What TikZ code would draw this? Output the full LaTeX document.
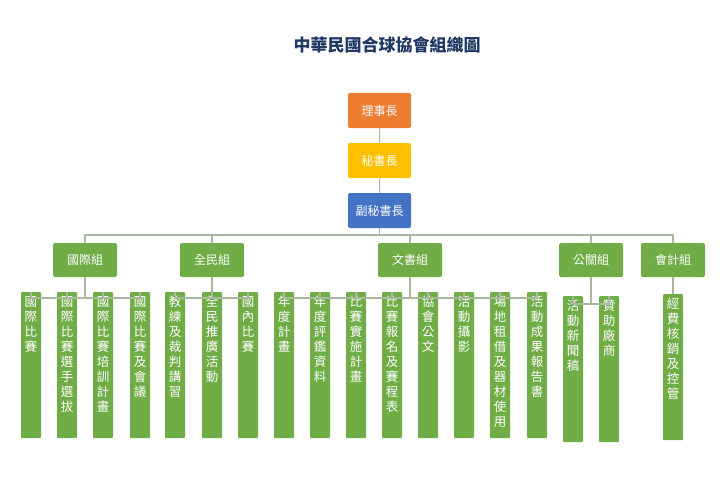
\documentclass[tikz,border=0pt]{standalone}
\usepackage{fontspec}
\setmainfont{Noto Sans CJK TC}
\definecolor{og}{HTML}{70AD47}
\definecolor{oo}{HTML}{ED7D31}
\definecolor{oy}{HTML}{FFC000}
\definecolor{ob}{HTML}{4472C4}
\definecolor{ln}{HTML}{A9B89E}
\definecolor{tt}{HTML}{1F3864}
\begin{document}
\begin{tikzpicture}[x=1pt,y=-1pt,
 top/.style={draw=none,rounded corners=2pt,minimum width=63pt,minimum height=35pt,text=white,font=\fontsize{12}{14}\selectfont,inner sep=0},
 grp/.style={fill=og,draw=none,rounded corners=2pt,minimum width=64pt,minimum height=34pt,text=white,font=\fontsize{12}{14}\selectfont,inner sep=0},
 leaf/.style={fill=og,draw=none,rounded corners=1pt,minimum width=20pt,minimum height=146pt,inner sep=0,anchor=north,text=white,font=\fontsize{12.5}{15}\selectfont},
 con/.style={draw=ln,line width=1.2pt}]
\useasboundingbox (0,0) rectangle (722,500);
\newcommand\lf[1]{\parbox[t][138pt][t]{16pt}{\centering #1}}
\node (title) at (387,45) {\fontsize{17}{20}\selectfont\bfseries\color{tt}中華民國合球協會組織圖};
\node[top,fill=oo] (a) at (379.5,110.5) {理事長};
\node[top,fill=oy] (b) at (379.5,160.5) {秘書長};
\node[top,fill=ob] (c) at (379.5,210.5) {副秘書長};
\draw[con] (a) -- (b); \draw[con] (b) -- (c);
\node[grp] (g1) at (85,260) {國際組};
\node[grp] (g2) at (212,260) {全民組};
\node[grp] (g3) at (410,260) {文書組};
\node[grp] (g4) at (591,260) {公關組};
\node[grp] (g5) at (673,260) {會計組};
\coordinate (h) at (379.5,235);
\foreach \g in {g1,g2,g3,g4,g5}{\draw[con] (c.south) -- (h) -| (\g.north);}
% leaves
\node[leaf] (l1) at (31,292) {\lf{國\\際\\比\\賽}};
\node[leaf] (l2) at (67,292) {\lf{國\\際\\比\\賽\\選\\手\\選\\拔}};
\node[leaf] (l3) at (103,292) {\lf{國\\際\\比\\賽\\培\\訓\\計\\畫}};
\node[leaf] (l4) at (140,292) {\lf{國\\際\\比\\賽\\及\\會\\議}};
\node[leaf] (l5) at (175,292) {\lf{教\\練\\及\\裁\\判\\講\\習}};
\node[leaf] (l6) at (212,292) {\lf{全\\民\\推\\廣\\活\\動}};
\node[leaf] (l7) at (248,292) {\lf{國\\內\\比\\賽}};
\node[leaf] (l8) at (284,292) {\lf{年\\度\\計\\畫}};
\node[leaf] (l9) at (320,292) {\lf{年\\度\\評\\鑑\\資\\料}};
\node[leaf] (l10) at (356,292) {\lf{比\\賽\\實\\施\\計\\畫}};
\node[leaf] (l11) at (392,292) {\lf{比\\賽\\報\\名\\及\\賽\\程\\表}};
\node[leaf] (l12) at (428,292) {\lf{協\\會\\公\\文}};
\node[leaf] (l13) at (464,292) {\lf{活\\動\\攝\\影}};
\node[leaf] (l14) at (500,292) {\lf{場\\地\\租\\借\\及\\器\\材\\使\\用}};
\node[leaf] (l15) at (537,292) {\lf{活\\動\\成\\果\\報\\告\\書}};
\node[leaf] (l16) at (573,296) {\lf{活\\動\\新\\聞\\稿}};
\node[leaf] (l17) at (609,296) {\lf{贊\\助\\廠\\商}};
\node[leaf] (l18) at (673,294) {\lf{經\\費\\核\\銷\\及\\控\\管}};
\foreach \l in {l1,l2,l3,l4}{\draw[con] (g1.south) |- ([yshift=-6pt]\l.north) -- (\l.north);}
\foreach \l in {l5,l6,l7}{\draw[con] (g2.south) |- ([yshift=-6pt]\l.north) -- (\l.north);}
\foreach \l in {l8,l9,l10,l11,l12,l13,l14,l15}{\draw[con] (g3.south) |- ([yshift=-6pt]\l.north) -- (\l.north);}
\foreach \l in {l16,l17}{\draw[con] (g4.south) |- ([yshift=-8pt]\l.north) -- (\l.north);}
\draw[con] (g5) -- (l18);
\end{tikzpicture}
\end{document}
